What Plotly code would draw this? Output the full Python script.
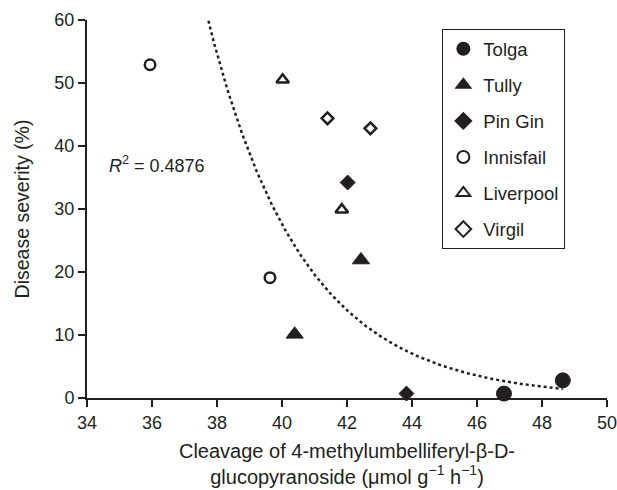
import numpy as np
import plotly.graph_objects as go

sites = ["Tolga", "Tully", "Pin Gin", "Innisfail", "Liverpool", "Virgil"]
symbols = ["circle", "triangle-up", "diamond", "circle-open", "triangle-up-open", "diamond-open"]
cleavage = {
    "Tolga": [46.83, 48.64],
    "Tully": [40.39, 42.43],
    "Pin Gin": [42.02, 43.83],
    "Innisfail": [35.94, 39.63],
    "Liverpool": [40.02, 41.84],
    "Virgil": [41.40, 42.72],
}
severity = {
    "Tolga": [0.7, 2.8],
    "Tully": [10.1, 21.9],
    "Pin Gin": [34.2, 0.7],
    "Innisfail": [52.9, 19.1],
    "Liverpool": [50.5, 29.9],
    "Virgil": [44.4, 42.8],
}
x_ticks = [34, 36, 38, 40, 42, 44, 46, 48, 50]
y_ticks = [0, 10, 20, 30, 40, 50, 60]
r2_text = "<i>R</i><sup>2</sup> = 0.4876"

ink = "#231f20"
font = "Liberation Sans, Arial, sans-serif"

marker_size = {"circle": 15, "triangle-up": 15, "diamond": 11.5,
               "circle-open": 10.5, "triangle-up-open": 11, "diamond-open": 9}

fig = go.Figure()
for i, s in enumerate(sites):
    sym = symbols[i]
    open_ = "open" in sym
    fig.add_trace(go.Scatter(
        x=cleavage[s], y=severity[s], mode="markers", name=s,
        legendgroup=s,
        marker=dict(symbol=sym, size=marker_size[sym],
                    color=ink, line=dict(color=ink, width=2.5 if open_ else 1)),
        cliponaxis=False,
    ))

# exponential trendline fitted to all points
allx = np.concatenate([cleavage[s] for s in sites])
ally = np.concatenate([severity[s] for s in sites])
b, lna = np.polyfit(allx, np.log(ally), 1)
tx = np.linspace(allx.min(), allx.max(), 200)
ty = np.exp(lna) * np.exp(b * tx)
fig.add_trace(go.Scatter(x=tx, y=ty, mode="lines", showlegend=False,
                         line=dict(color=ink, width=2.5, dash="dot")))

fig.add_annotation(x=34.62, y=37.1, xref="x", yref="y", text=r2_text, showarrow=False,
                   xanchor="left", yanchor="middle", font=dict(size=18, color=ink, family=font))

fig.update_layout(
    width=617, height=490,
    margin=dict(l=87, r=10, t=20, b=92),
    paper_bgcolor="white", plot_bgcolor="white",
    font=dict(family=font, size=18, color=ink),
    legend=dict(x=0.683, y=0.976, xanchor="left", yanchor="top",
                bordercolor=ink, borderwidth=1.2, bgcolor="white",
                font=dict(size=18.5, color=ink), tracegroupgap=9,
                itemsizing="constant"),
)
fig.update_xaxes(range=[34, 50], tickvals=x_ticks, showgrid=False, zeroline=False,
                 showline=True, linecolor=ink, linewidth=2, ticks="outside",
                 ticklen=7, tickwidth=2, tickcolor=ink, automargin=False,
                 ticklabeloverflow="allow",
                 tickfont=dict(size=18, color=ink),
                 title=dict(text="Cleavage of 4-methylumbelliferyl-β-D-<br>glucopyranoside (μmol g<sup>−1</sup> h<sup>−1</sup>)",
                            font=dict(size=20, color=ink), standoff=12))
fig.update_yaxes(range=[0, 60], tickvals=y_ticks, showgrid=False, zeroline=False,
                 showline=True, linecolor=ink, linewidth=2, ticks="outside",
                 ticklen=7, tickwidth=2, tickcolor=ink, automargin=False,
                 ticklabeloverflow="allow",
                 tickfont=dict(size=18, color=ink),
                 title=dict(text="Disease severity (%)", font=dict(size=19.5, color=ink), standoff=20))

fig.write_html("out.html")
